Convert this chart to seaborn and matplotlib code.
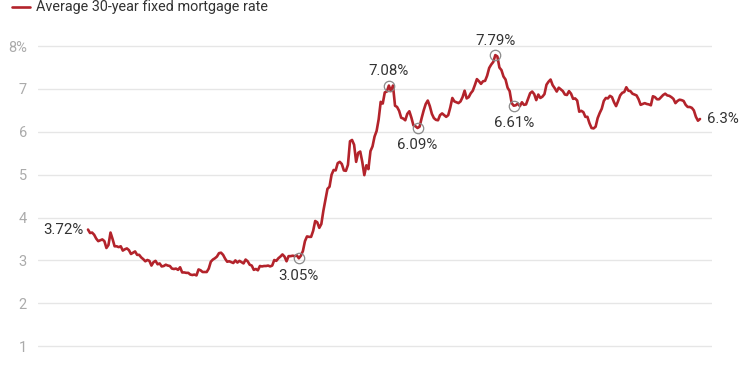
import matplotlib
matplotlib.use("Agg")
import matplotlib.pyplot as plt
import matplotlib.dates as mdates
from matplotlib.lines import Line2D
import numpy as np
import pandas as pd
import seaborn as sns

# Weekly average 30-year fixed mortgage rate (%), first Thursday of 2020 onward
rates_2020 = [3.72, 3.64, 3.65, 3.60, 3.51, 3.45, 3.47, 3.49, 3.45, 3.29, 3.36, 3.65, 3.50,
              3.33, 3.33, 3.31, 3.33, 3.23, 3.26, 3.28, 3.24, 3.15, 3.18, 3.21, 3.13, 3.13,
              3.07, 3.03, 2.98, 3.01, 2.99, 2.88, 2.96, 2.99, 2.91, 2.93, 2.86, 2.87, 2.90,
              2.88, 2.87, 2.81, 2.80, 2.81, 2.78, 2.84, 2.72, 2.72, 2.71, 2.71, 2.67, 2.66, 2.67]
rates_2021 = [2.65, 2.79, 2.77, 2.73, 2.73, 2.73, 2.81, 2.97, 3.02, 3.05, 3.09, 3.17,
              3.18, 3.13, 3.04, 2.97, 2.98, 2.96, 2.94, 3.00, 2.95, 2.99, 2.96, 2.93, 3.02,
              2.98, 2.90, 2.88, 2.78, 2.80, 2.77, 2.87, 2.86, 2.87, 2.87, 2.88, 2.86, 2.88,
              3.01, 2.99, 3.05, 3.09, 3.14, 3.09, 2.98, 3.10, 3.10, 3.11, 3.10, 3.12, 3.05, 3.11]
rates_2022 = [3.22, 3.45, 3.56, 3.55, 3.55, 3.69, 3.92, 3.89, 3.76, 3.85, 4.16, 4.42, 4.67,
              4.72, 5.00, 5.11, 5.10, 5.27, 5.30, 5.25, 5.10, 5.09, 5.23, 5.78, 5.81, 5.70,
              5.30, 5.51, 5.54, 5.30, 4.99, 5.22, 5.13, 5.55, 5.66, 5.89, 6.02, 6.29, 6.70,
              6.66, 6.92, 6.94, 7.08, 6.95, 7.08, 6.61, 6.58, 6.49, 6.33, 6.31, 6.27, 6.42]
rates_2023 = [6.48, 6.33, 6.15, 6.13, 6.09, 6.12, 6.32, 6.50, 6.65, 6.73, 6.60, 6.42, 6.32,
              6.28, 6.27, 6.39, 6.43, 6.39, 6.35, 6.39, 6.57, 6.79, 6.71, 6.69, 6.67, 6.71,
              6.81, 6.96, 6.78, 6.81, 6.90, 6.96, 7.09, 7.23, 7.18, 7.12, 7.18, 7.19, 7.31,
              7.49, 7.57, 7.63, 7.79, 7.76, 7.50, 7.44, 7.29, 7.22, 7.03, 6.95, 6.67, 6.61]
rates_2024 = [6.62, 6.66, 6.60, 6.69, 6.63, 6.64, 6.77, 6.90, 6.94, 6.88, 6.74, 6.87, 6.79,
              6.82, 6.88, 7.10, 7.17, 7.22, 7.09, 7.02, 6.94, 7.03, 6.99, 6.95, 6.87, 6.86,
              6.95, 6.89, 6.77, 6.78, 6.73, 6.47, 6.49, 6.46, 6.35, 6.35, 6.20, 6.09, 6.08,
              6.12, 6.32, 6.44, 6.54, 6.72, 6.79, 6.78, 6.84, 6.81, 6.69, 6.60, 6.72, 6.85]
rates_2025 = [6.91, 6.93, 7.04, 6.96, 6.95, 6.89, 6.87, 6.85, 6.76, 6.63, 6.65, 6.67, 6.65,
              6.64, 6.62, 6.83, 6.81, 6.76, 6.76, 6.81, 6.86, 6.89, 6.85, 6.84, 6.81, 6.77,
              6.67, 6.72, 6.75, 6.74, 6.72, 6.63, 6.58, 6.58, 6.56, 6.50, 6.35, 6.26, 6.30]

start_date = "2020-01-02"
series_label = "Average 30-year fixed mortgage rate"

# Highlighted points (date, label text)
marked_dates = ["2021-12-23", "2022-10-27", "2023-02-02", "2023-10-26", "2023-12-28"]
marked_labels = ["3.05%", "7.08%", "6.09%", "7.79%", "6.61%"]
marked_above = [False, True, False, True, False]

y_ticks = [1, 2, 3, 4, 5, 6, 7, 8]
y_tick_labels = ["1", "2", "3", "4", "5", "6", "7", "8%"]

rates = rates_2020 + rates_2021 + rates_2022 + rates_2023 + rates_2024 + rates_2025
dates = pd.date_range(start=start_date, periods=len(rates), freq="7D")
df = pd.DataFrame({"date": dates, "rate": rates})

LINE = "#b3232b"
TXT = "#333333"

sns.set_theme(style="white")
plt.rcParams["font.family"] = ["Roboto", "DejaVu Sans"]

fig = plt.figure(figsize=(7.5, 3.75), dpi=100)
ax = fig.add_axes([38 / 750, 0, 674 / 750, 345 / 375])

sns.lineplot(data=df, x="date", y="rate", color=LINE, linewidth=1.9, ax=ax, zorder=3)

# limits
x0 = mdates.date2num(dates[0])
x1 = mdates.date2num(dates[-1])
span = x1 - x0
ax.set_xlim(x0 - span * 50 / 612, x1 + span * 12 / 612)
ax.set_ylim(0.327, 8.376)

ax.set_yticks(y_ticks)
ax.set_yticklabels(y_tick_labels)
ax.yaxis.grid(True, color="#e6e6e6", linewidth=1)
ax.xaxis.grid(False)
ax.set_xticks([])
ax.tick_params(axis="y", length=0, pad=8, labelsize=10.5, labelcolor="#ababab")
for s in ax.spines.values():
    s.set_visible(False)
ax.set_xlabel("")
ax.set_ylabel("")

# markers and labels
rate_by_date = dict(zip(df["date"], df["rate"]))
for d, lab, above in zip(marked_dates, marked_labels, marked_above):
    dt = pd.Timestamp(d)
    v = rate_by_date[dt]
    ax.plot([dt], [v], marker="o", ms=7.5, mfc="none", mec="#8a8a8a", mew=0.9, zorder=4)
    dy = 10.5 if above else -12.5
    ax.annotate(lab, (dt, v), xytext=(0, dy), textcoords="offset points",
                ha="center", va="center", fontsize=10.8, color=TXT)

# start and end labels
ax.annotate(f"{rates[0]:.2f}%", (dates[0], rates[0]), xytext=(-3.6, 0),
            textcoords="offset points", ha="right", va="center", fontsize=10.8, color=TXT)
ax.annotate(f"{rates[-1]:g}%", (dates[-1], rates[-1]), xytext=(5, 0),
            textcoords="offset points", ha="left", va="center", fontsize=10.8, color=TXT)

# legend
fig.add_artist(Line2D([12 / 750, 30 / 750], [1 - 7 / 375, 1 - 7 / 375],
                      color=LINE, linewidth=1.9, transform=fig.transFigure))
fig.text(36 / 750, 1 - 7 / 375, series_label, ha="left", va="center",
         fontsize=10.4, color=TXT)

fig.savefig("out.png", dpi=100)
